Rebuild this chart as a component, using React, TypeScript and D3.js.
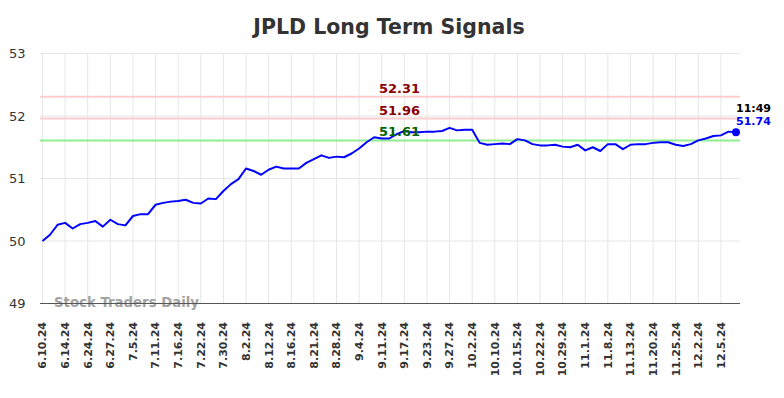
import React from "react";
import * as d3 from "d3";

const W = 784;
const H = 398;

const tickDates = [
  "6.10.24", "6.14.24", "6.24.24", "6.27.24", "7.5.24", "7.11.24", "7.16.24", "7.22.24",
  "7.30.24", "8.2.24", "8.12.24", "8.16.24", "8.21.24", "8.28.24", "9.4.24", "9.11.24",
  "9.17.24", "9.23.24", "9.27.24", "10.2.24", "10.10.24", "10.15.24", "10.22.24", "10.29.24",
  "11.1.24", "11.8.24", "11.13.24", "11.20.24", "11.25.24", "12.2.24", "12.5.24",
];

// closing values, one every trading session shown (3 per date tick)
const prices = [
  50.0, 50.1, 50.26, 50.29, 50.2, 50.27, 50.29, 50.32, 50.23, 50.34,
  50.27, 50.25, 50.4, 50.43, 50.43, 50.58, 50.61, 50.63, 50.64, 50.66,
  50.61, 50.6, 50.68, 50.67, 50.8, 50.91, 50.99, 51.16, 51.12, 51.06,
  51.14, 51.19, 51.16, 51.16, 51.16, 51.25, 51.31, 51.37, 51.33, 51.35,
  51.34, 51.4, 51.48, 51.58, 51.66, 51.64, 51.64, 51.71, 51.76, 51.74,
  51.74, 51.75, 51.75, 51.76, 51.81, 51.77, 51.78, 51.78, 51.57, 51.54,
  51.55, 51.56, 51.55, 51.63, 51.61, 51.55, 51.53, 51.53, 51.54, 51.51,
  51.5, 51.54, 51.45, 51.5, 51.44, 51.55, 51.55, 51.47, 51.54, 51.55,
  51.55, 51.57, 51.58, 51.58, 51.54, 51.52, 51.55, 51.61, 51.64, 51.68,
  51.69, 51.75, 51.74,
];

const yTicks = [49, 50, 51, 52, 53];
const signalLevels = [52.31, 51.96, 51.61];
const signalLine = ["#ffcccc", "#ffcccc", "#90ee90"];
const signalText = ["#8b0000", "#8b0000", "#006400"];
const lastTime = "11:49";

const TICK_STEP = 3;

export default function App() {
  const left = 40, right = 740, top = 53.5, bottom = 303.5;
  const x = d3.scaleLinear().domain([0, prices.length - 1]).range([42.5, 736]);
  const y = d3.scaleLinear().domain([49, 53]).range([bottom, top]);

  const line = d3.line<number>()
    .x((d, i) => x(i))
    .y(d => y(d));

  const lastIdx = prices.length - 1;
  const font = "'DejaVu Sans', sans-serif";

  return (
    <svg width={W} height={H} style={{ position: "absolute", left: 0, top: 0, background: "#fff" }} fontFamily={font}>
      <text x={389} y={34} textAnchor="middle" fontSize={20.5} fontWeight="bold" fill="#333">
        JPLD Long Term Signals
      </text>

      {/* grid */}
      {yTicks.slice(1).map(t => (
        <line key={"gy" + t} x1={left} x2={right} y1={y(t)} y2={y(t)} stroke="#e6e6e6" />
      ))}
      {tickDates.map((d, i) => (
        <line key={"gx" + d} x1={x(i * TICK_STEP)} x2={x(i * TICK_STEP)} y1={top} y2={bottom} stroke="#e6e6e6" />
      ))}

      {yTicks.map(t => (
        <text key={"yl" + t} x={25.5} y={y(t)} dy="0.35em" textAnchor="end" fontSize={13} fill="#333">
          {t}
        </text>
      ))}

      {tickDates.map((d, i) => (
        <text key={"xl" + d} transform={`translate(${x(i * TICK_STEP)},322) rotate(-90)`}
          dy="0.35em" textAnchor="end" fontSize={11} fontWeight="bold" fill="#333">
          {d}
        </text>
      ))}

      <text x={54} y={307} fontSize={13.3} fontWeight="bold" fill="#999" opacity={0.9}>Stock Traders Daily</text>

      {signalLevels.map((s, i) => (
        <line key={"sl" + s} x1={left} x2={right} y1={y(s)} y2={y(s)} stroke={signalLine[i]} strokeWidth={2} />
      ))}

      <line x1={left} x2={right} y1={bottom} y2={bottom} stroke="#555" strokeWidth={1} />

      <path d={line(prices) || ""} fill="none" stroke="#0000ff" strokeWidth={2} strokeLinejoin="round" />
      <circle cx={x(lastIdx)} cy={y(prices[lastIdx])} r={4} fill="#0000ff" />

      {signalLevels.map((s, i) => (
        <text key={"st" + s} x={399.5} y={y(s) - 4} textAnchor="middle" fontSize={13} fontWeight="bold" fill={signalText[i]}>
          {s.toFixed(2)}
        </text>
      ))}

      <text x={736} y={111.5} fontSize={11} fontWeight="bold" fill="#000">{lastTime}</text>
      <text x={736} y={125} fontSize={11} fontWeight="bold" fill="#0000ff">{prices[lastIdx].toFixed(2)}</text>
    </svg>
  );
}
